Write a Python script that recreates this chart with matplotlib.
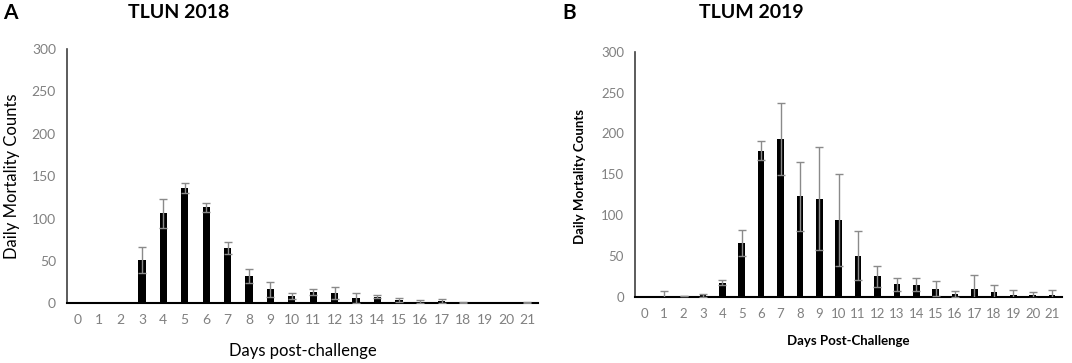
import numpy as np
import matplotlib
matplotlib.use('Agg')
import matplotlib.pyplot as plt

plt.rcParams['font.family'] = ['Lato', 'DejaVu Sans']

days = list(range(22))

# TLUN 2018 (panel A)
tlun_mean = [0, 0, 0.8, 51, 106, 136, 113, 65, 32, 16.5, 9, 13, 12.5, 6, 8,
             4, 2, 2.5, 1, 0.5, 0.5, 1]
tlun_err = [0, 0, 0, 15, 17, 6, 5, 7, 8, 9, 3.5, 3.5, 7, 6, 2,
            2, 2, 2, 0.3, 0, 0, 0.5]

# TLUM 2019 (panel B)
tlum_mean = [0, 1, 1, 1.6, 17, 66, 179, 193, 123, 120, 94, 50, 25, 15, 14.5,
             10, 3.3, 10, 5.7, 2.4, 1.6, 2.4]
tlum_err = [0, 5.5, 0.3, 1.5, 3, 16, 12, 44, 42, 63, 56, 30, 12.5, 7.5, 8,
            9.2, 3.5, 16, 9, 5.4, 3.7, 6.2]

grey = '#8a8a8a'

fig = plt.figure(figsize=(10.72, 3.63), dpi=100)
axA = fig.add_axes([0.0625, 0.1645, 0.4394, 0.7006])
axB = fig.add_axes([0.5924, 0.1826, 0.398, 0.675])


def draw(ax, mean, err, tick_fs):
    x = np.array(days)
    m = np.array(mean)
    e = np.array(err)
    ax.bar(x, m, width=0.34, color='black', zorder=2)
    keep = e > 0
    ax.errorbar(x[keep], m[keep], yerr=e[keep], fmt='none', ecolor=grey,
                elinewidth=1.0, capsize=3, capthick=1.0, zorder=3)
    ax.set_xlim(-0.5, 21.5)
    ax.set_ylim(0, 300)
    ax.set_yticks(range(0, 301, 50))
    ax.set_xticks(days)
    ax.tick_params(length=0, labelsize=tick_fs, colors='#808080', pad=8)
    for s in ['top', 'right']:
        ax.spines[s].set_visible(False)
    ax.spines['left'].set_color('#404040')
    ax.spines['left'].set_linewidth(1.2)
    ax.spines['bottom'].set_color('black')
    ax.spines['bottom'].set_linewidth(1.5)


draw(axA, tlun_mean, tlun_err, 10)
draw(axB, tlum_mean, tlum_err, 9.5)

axA.set_xlabel('Days post-challenge', fontsize=12, labelpad=12)
axA.set_ylabel('Daily Mortality Counts', fontsize=12)
axA.yaxis.set_label_coords(-0.100, 0.5)
axB.set_xlabel('Days Post-Challenge', fontsize=9.5, fontweight='bold', labelpad=11)
axB.set_ylabel('Daily Mortality Counts', fontsize=9.5, fontweight='bold')
axB.yaxis.set_label_coords(-0.115, 0.49)

fig.text(0.167, 0.965, 'TLUN 2018', fontsize=14, fontweight='bold', ha='center', va='center')
fig.text(0.701, 0.965, 'TLUM 2019', fontsize=14, fontweight='bold', ha='center', va='center')
fig.text(0.003, 0.965, 'A', fontsize=15, fontweight='bold', ha='left', va='center')
fig.text(0.525, 0.965, 'B', fontsize=15, fontweight='bold', ha='left', va='center')

fig.savefig('out.png', dpi=100)
